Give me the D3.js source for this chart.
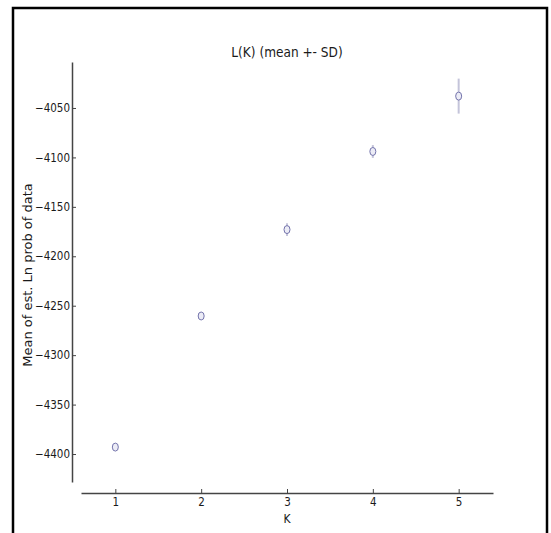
<!DOCTYPE html>
<html>
<head>
<meta charset="utf-8">
<script src="https://cdn.jsdelivr.net/npm/d3@7"></script>
<style>
  html, body { margin: 0; padding: 0; background: #fff; }
  svg text { font-family: "DejaVu Sans Condensed", "DejaVu Sans", sans-serif; fill: #1a1a1a; }
</style>
</head>
<body>
<svg id="chart" width="551" height="533"></svg>
<script>
// ---- data ----
const categories = [1, 2, 3, 4, 5];
const meanLnProb = [-4393, -4260.4, -4173, -4094, -4038];
const sdLnProb = [1.5, 2, 6.5, 6.5, 17.7];
const yTicks = [-4400, -4350, -4300, -4250, -4200, -4150, -4100, -4050];
const xTicks = [1, 2, 3, 4, 5];
const titleText = "L(K) (mean +- SD)";
const xLabel = "K";
const yLabel = "Mean of est. Ln prob of data";

const svg = d3.select("#chart");

// outer frame
svg.append("rect")
  .attr("x", 13).attr("y", 8)
  .attr("width", 534).attr("height", 540)
  .attr("fill", "none").attr("stroke", "#000").attr("stroke-width", 2.5);

const plot = { left: 81, right: 493, top: 62, bottom: 482 };

const x = d3.scaleLinear().domain([0.6, 5.4]).range([plot.left, plot.right]);
const y = d3.scaleLinear().domain([-4428.3, -4003.5]).range([plot.bottom, plot.top]);

// y axis (offset spine)
const yAxis = svg.append("g")
  .attr("transform", "translate(72,0)")
  .call(d3.axisLeft(y).tickValues(yTicks).tickFormat(d3.format("d"))
        .tickSizeInner(-4).tickSizeOuter(0).tickPadding(2));

// x axis (offset spine)
const xAxis = svg.append("g")
  .attr("transform", "translate(0,493)")
  .call(d3.axisBottom(x).tickValues(xTicks).tickFormat(d3.format("d"))
        .tickSizeInner(-4).tickSizeOuter(0).tickPadding(5));

[yAxis, xAxis].forEach(g => {
  g.select(".domain").attr("stroke", "#444").attr("stroke-width", 1.5);
  g.selectAll(".tick line").attr("stroke", "#444").attr("stroke-width", 1);
  g.selectAll(".tick text").attr("font-size", 11.5).attr("fill", "#1a1a1a")
    .style("font-family", '"DejaVu Sans Condensed", "DejaVu Sans", sans-serif');
});
yAxis.selectAll(".tick text").text(d => String(d).replace("-", "\u2212"));

// title
svg.append("text")
  .attr("x", (plot.left + plot.right) / 2).attr("y", 57)
  .attr("text-anchor", "middle").attr("font-size", 13.5)
  .text(titleText);

// x label
svg.append("text")
  .attr("x", (plot.left + plot.right) / 2).attr("y", 523)
  .attr("text-anchor", "middle").attr("font-size", 12)
  .text(xLabel);

// y label
svg.append("text")
  .attr("transform", `translate(32,${(plot.top + plot.bottom) / 2 + 3}) rotate(-90)`)
  .attr("text-anchor", "middle").attr("font-size", 13)
  .style("font-family", '"DejaVu Sans", sans-serif')
  .text(yLabel);

const data = categories.map((k, i) => ({ k, m: meanLnProb[i], sd: sdLnProb[i] }));

// error bars
svg.append("g").selectAll("line").data(data).join("line")
  .attr("x1", d => x(d.k)).attr("x2", d => x(d.k))
  .attr("y1", d => y(d.m + d.sd)).attr("y2", d => y(d.m - d.sd))
  .attr("stroke", "#c4c4da").attr("stroke-width", 2);

// markers
svg.append("g").selectAll("ellipse").data(data).join("ellipse")
  .attr("cx", d => x(d.k)).attr("cy", d => y(d.m))
  .attr("rx", 3).attr("ry", 4)
  .attr("fill", "#ececf6").attr("stroke", "#7474ac").attr("stroke-width", 1);
</script>
</body>
</html>
